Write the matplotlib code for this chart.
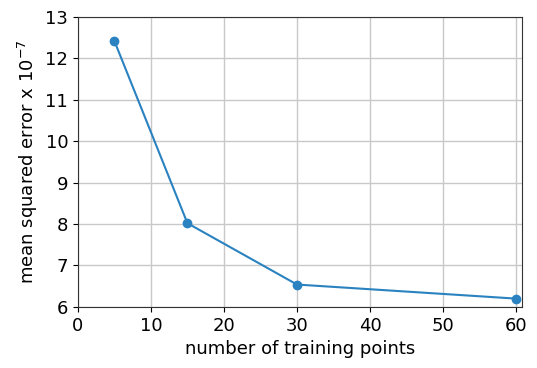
import matplotlib

matplotlib.use("Agg")
import matplotlib.pyplot as plt  # noqa: E402

n_points = [5, 15, 30, 60]
mse = [12.42, 8.02, 6.54, 6.2]

plt.rcParams["font.size"] = 13

fig = plt.figure(figsize=(5.37, 3.68), dpi=100)
ax = fig.add_axes([0.145, 0.166, 0.827, 0.788])
ax.plot(n_points, mse, "-o", color="#2a82c0", markersize=6, linewidth=1.5)
ax.set_xlim(0, 60.8)
ax.set_ylim(6, 13)
ax.set_xticks(range(0, 61, 10))
ax.set_yticks(range(6, 14))
ax.grid(True, color="#c8c8c8", linewidth=1)
ax.set_axisbelow(True)
for s in ax.spines.values():
    s.set_color("#333333")
ax.set_xlabel("number of training points")
ax.set_ylabel(r"mean squared error x $10^{-7}$")
fig.savefig("out.png", dpi=100)
